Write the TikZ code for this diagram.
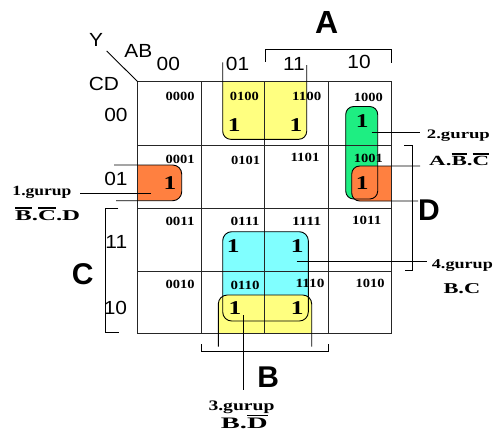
\documentclass[tikz,border=0pt]{standalone}
\usepackage{fontspec}
\usepackage{graphicx}
\setmainfont{Liberation Serif}
\newfontfamily\arialf{Liberation Sans}
\definecolor{kyellow}{RGB}{255,255,128}
\definecolor{kcyan}{RGB}{128,255,255}
\definecolor{kgreen}{RGB}{30,238,130}
\definecolor{korange}{RGB}{255,128,64}
\newcommand\ovl[1]{\vbox{\hrule height 1.6pt\kern1.4pt\hbox{#1}}}
\newcommand\hs[2]{\resizebox{#1pt}{\height}{#2}}
\newcommand\sx[1]{\scalebox{1.1}[1]{#1}}
\newcommand\sone[1]{\scalebox{1.3}[1]{#1}}
\begin{document}
\begin{tikzpicture}[x=1pt,y=-1pt,
  gridline/.style={line width=1pt,black!85},
  outl/.style={line width=0.9pt,black},
  hdr/.style={font=\arialf\fontsize{19}{19}\selectfont,inner sep=0pt,anchor=base},
  big/.style={font=\arialf\bfseries\fontsize{30}{30}\selectfont,inner sep=0pt,anchor=base},
  one/.style={font=\bfseries\fontsize{19.5}{19.5}\selectfont,inner sep=0pt,anchor=base},
  mt/.style={font=\bfseries\fontsize{12.5}{12.5}\selectfont,inner sep=0pt},
  lbl/.style={inner sep=0pt,anchor=base west}]
\useasboundingbox (0,0) rectangle (494,440);
% fills
\fill[kyellow,rounded corners=8pt] (222.7,81.7) -- (222.7,139.3) -- (306.7,139.3) -- (306.7,81.7);
\fill[kgreen,rounded corners=8pt] (345.7,106.5) rectangle (377.7,199);
\fill[korange,rounded corners=8pt] (391.7,166) -- (351.7,166) -- (351.7,201) -- (391.7,201);
\fill[korange,rounded corners=9pt] (137.7,165) -- (181.7,165) -- (181.7,200.7) -- (137.7,200.7);
\fill[kcyan,rounded corners=9pt] (222.7,231.7) rectangle (308.3,321);
\fill[kyellow,rounded corners=9pt] (218.3,333.3) -- (218.3,295) -- (311.7,295) -- (311.7,333.3);
% grid
\draw[gridline] (137.7,81.7) rectangle (391.7,333.3);
\foreach \gx in {201,264.7,328.3} \draw[gridline] (\gx,81.7) -- (\gx,333.3);
\foreach \gy in {145,208.3,271.7} \draw[gridline] (137.7,\gy) -- (391.7,\gy);
% group outlines
\draw[outl,rounded corners=8pt] (222.7,62.3) -- (222.7,139.3) -- (306.7,139.3) -- (306.7,65);
\draw[outl,rounded corners=8pt] (345.7,106.5) rectangle (377.7,199);
\draw[outl,rounded corners=8pt] (420,166) -- (351.7,166) -- (351.7,201) -- (418,201);
\draw[outl,rounded corners=9pt] (114,165) -- (181.7,165) -- (181.7,200.7) -- (116,200.7);
\draw[outl,rounded corners=9pt] (222.7,231.7) rectangle (308.3,321);
\draw[outl,rounded corners=9pt] (218.3,346.7) -- (218.3,295) -- (311.7,295) -- (311.7,346.7);
% brackets
\draw[outl] (265,61.7) -- (265,49.3) -- (391.7,49.3) -- (391.7,62.7);
\draw[outl] (201.7,344) -- (201.7,351.7) -- (328.3,351.7) -- (328.3,344);
\draw[outl] (118.3,208.8) -- (105,208.8) -- (105,332.7) -- (119,332.7);
\draw[outl] (404,145.5) -- (412.7,145.5) -- (412.7,270) -- (405,270);
% corner
\coordinate (diagA) at (106.7,51);
\coordinate (diagB) at (137.7,81.7);
\draw[outl] (diagA) -- (diagB);
% headers
\node[hdr] (yy) at (96,46) {\sx{Y}};
\node[hdr] (ab) at (138.3,57.3) {\sx{AB}};
\node[hdr] (cd) at (104,90) {\sx{CD}};
\node[hdr] (c00) at (168.3,70) {\sx{00}};
\node[hdr] (c01) at (237.5,70.7) {\sx{01}};
\node[hdr] (c11) at (294,70.7) {\sx{11}};
\node[hdr] (c10) at (359,68.3) {\sx{10}};
\node[hdr] (r00) at (116,121.7) {\sx{00}};
\node[hdr] (r01) at (116,185) {\sx{01}};
\node[hdr] (r11) at (116.3,248.3) {\sx{11}};
\node[hdr] (r10) at (115.5,314) {\sx{10}};
% big letters
\node[big,font=\arialf\bfseries\fontsize{32}{32}\selectfont] (la) at (326.7,33.3) {A};
\node[big] (lb) at (268.3,387.3) {B};
\node[big] (lc) at (82.7,284) {C};
\node[big] (ld) at (429,220) {D};
% minterms
\node[mt] (m0000) at (180,96) {\hs{29}{0000}};
\node[mt] (m0100) at (244.3,96) {\hs{29}{0100}};
\node[mt] (m1100) at (306.7,96) {\hs{29}{1100}};
\node[mt] (m1000) at (368.3,97) {\hs{29}{1000}};
\node[mt] (m0001) at (180,159) {\hs{29}{0001}};
\node[mt] (m0101) at (245.7,160) {\hs{29}{0101}};
\node[mt] (m1101) at (305,157.7) {\hs{29}{1101}};
\node[mt] (m1001) at (368.3,158.3) {\hs{29}{1001}};
\node[mt] (m0011) at (180,221.7) {\hs{29}{0011}};
\node[mt] (m0111) at (245,221.7) {\hs{29}{0111}};
\node[mt] (m1111) at (306.7,221.7) {\hs{29}{1111}};
\node[mt] (m1011) at (366.7,220) {\hs{29}{1011}};
\node[mt] (m0010) at (180,284) {\hs{29}{0010}};
\node[mt] (m0110) at (245,285) {\hs{29}{0110}};
\node[mt] (m1110) at (310,283.3) {\hs{29}{1110}};
\node[mt] (m1010) at (370,283.3) {\hs{29}{1010}};
% ones
\node[one] (o0100) at (234.3,131.7) {\sone{1}};
\node[one] (o1100) at (296,131.7) {\sone{1}};
\node[one] (o1000) at (362.3,127.5) {\sone{1}};
\node[one] (o1001) at (362.3,189) {\sone{1}};
\node[one] (o0001) at (170,189.3) {\sone{1}};
\node[one] (o0111) at (233.3,252.7) {\sone{1}};
\node[one] (o1111) at (297.3,252.7) {\sone{1}};
\node[one] (o0110) at (235,314.3) {\sone{1}};
\node[one] (o1110) at (297.3,314.3) {\sone{1}};
% group labels
\node[lbl,font=\bfseries\fontsize{13}{13}\selectfont] (g2) at (426.7,138) {\hs{63}{2.gurup}};
\node[lbl,font=\bfseries\fontsize{14}{14}\selectfont] (g2f) at (429,165.3) {\hs{60}{A.\ovl{B}.\ovl{C}}};
\node[lbl,font=\bfseries\fontsize{14}{14}\selectfont] (g1) at (12.3,195.7) {\hs{59}{1.gurup}};
\node[lbl,font=\bfseries\fontsize{15}{15}\selectfont] (g1f) at (15,220) {\hs{65}{\ovl{B}.\ovl{C}.D}};
\node[lbl,font=\bfseries\fontsize{14.5}{14.5}\selectfont] (g3) at (208.3,410) {\hs{66}{3.gurup}};
\node[lbl,font=\bfseries\fontsize{16}{16}\selectfont] (g3f) at (220.7,428.3) {\hs{46.7}{B.\ovl{D}}};
\node[lbl,font=\bfseries\fontsize{13.5}{13.5}\selectfont] (g4) at (431.7,268.7) {\hs{61}{4.gurup}};
\node[lbl,font=\bfseries\fontsize{15}{15}\selectfont] (g4f) at (443.3,293.3) {\hs{36.7}{B.C}};
% leaders
\coordinate (l2a) at (371.7,132.7); \coordinate (l2b) at (420,132.7);
\coordinate (l1a) at (151,193); \coordinate (l1b) at (80,193);
\coordinate (l3a) at (243.3,315); \coordinate (l3b) at (243.3,390);
\coordinate (l4a) at (296.7,261.7); \coordinate (l4b) at (426.7,261.7);
\draw[outl] (l2a) -- (l2b);
\draw[outl] (l1a) -- (l1b);
\draw[outl] (l3a) -- (l3b);
\draw[outl] (l4a) -- (l4b);
\end{tikzpicture}
\end{document}
